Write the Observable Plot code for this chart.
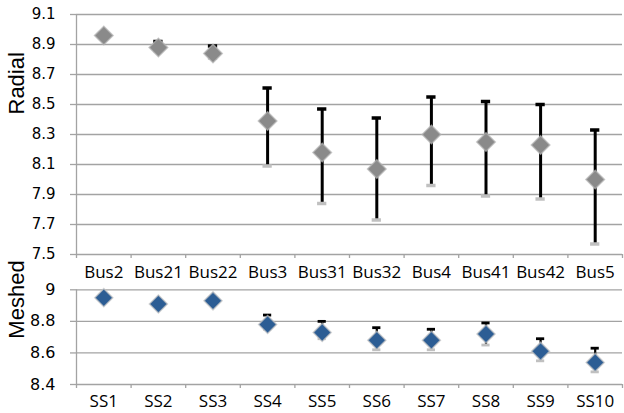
<!DOCTYPE html>
<html>
<head>
<meta charset="utf-8">
<script src="https://cdn.jsdelivr.net/npm/d3@7"></script>
<script src="https://cdn.jsdelivr.net/npm/@observablehq/plot@0.6"></script>
<style>
  html, body { margin: 0; padding: 0; background: #fff; }
  #chart { width: 624px; height: 413px; position: relative; }
  svg { overflow: visible; display: block; }
</style>
</head>
<body>
<div id="chart"></div>
<script>
// ---- data ----
const busCats  = ["Bus2","Bus21","Bus22","Bus3","Bus31","Bus32","Bus4","Bus41","Bus42","Bus5"];
const busMean  = [8.96, 8.88, 8.84, 8.39, 8.18, 8.07, 8.30, 8.25, 8.23, 8.00];
const busHigh  = [8.97, 8.92, 8.89, 8.61, 8.47, 8.41, 8.55, 8.52, 8.50, 8.33];
const busLow   = [8.95, 8.86, 8.81, 8.09, 7.84, 7.73, 7.96, 7.89, 7.87, 7.57];

const ssCats   = ["SS1","SS2","SS3","SS4","SS5","SS6","SS7","SS8","SS9","SS10"];
const ssMean   = [8.95, 8.91, 8.93, 8.78, 8.73, 8.68, 8.68, 8.72, 8.61, 8.54];
const ssHigh   = [8.96, 8.92, 8.94, 8.84, 8.80, 8.76, 8.75, 8.79, 8.69, 8.63];
const ssLow    = [8.94, 8.90, 8.92, 8.75, 8.69, 8.62, 8.62, 8.65, 8.55, 8.48];

const radialTicks  = [7.5, 7.7, 7.9, 8.1, 8.3, 8.5, 8.7, 8.9, 9.1];
const radialLabels = ["7.5","7.7","7.9","8.1","8.3","8.5","8.7","8.9","9.1"];
const meshedTicks  = [8.4, 8.6, 8.8, 9.0];
const meshedLabels = ["8.4","8.6","8.8","9"];

const GRID = "#a3a3a3";

function panel({cats, mean, high, low, ticks, labels, title, height, marginTop, marginBottom,
                color, halo, r, lineW, capW, capH, tickFont, titleDy, labelPad}) {
  const rows = cats.map((c, i) => ({i, c, m: mean[i], hi: high[i], lo: low[i]}));
  const n = cats.length;
  const half = capW;
  return Plot.plot({
    width: 624,
    height,
    marginLeft: 76,
    marginRight: 2,
    marginTop,
    marginBottom,
    style: {background: "transparent", overflow: "visible"},
    x: {domain: [0, n], axis: null},
    y: {domain: [ticks[0], ticks[ticks.length - 1]], axis: null},
    marks: [
      Plot.gridY(ticks, {stroke: GRID, strokeOpacity: 1, strokeWidth: 1.3, x1: 0, x2: n}),
      Plot.axisY({ticks, tickSize: 6, tickPadding: 15, stroke: GRID, strokeOpacity: 1, strokeWidth: 1.3,
        tickFormat: (d) => labels[ticks.indexOf(d)], fontSize: tickFont, fontFamily: "DejaVu Sans", fill: "#000", label: null}),
      Plot.ruleX([0], {stroke: GRID, strokeWidth: 1.3}),
      Plot.axisX({ticks: d3.range(n + 1), tickFormat: () => "", tickSize: 4, stroke: GRID, strokeOpacity: 1, strokeWidth: 1.3, label: null}),
      Plot.axisX({ticks: d3.range(n).map(i => i + 0.5), tickSize: 0, tickPadding: labelPad,
        tickFormat: (d) => cats[Math.round(d - 0.5)], fontSize: 17, fontFamily: "Open Sans", fill: "#000", label: null}),
      Plot.ruleX(rows, {x: d => d.i + 0.5, y1: "lo", y2: "hi", stroke: "#000", strokeWidth: lineW}),
      Plot.ruleY(rows, {y: "lo", x1: d => d.i + 0.5 - half, x2: d => d.i + 0.5 + half, stroke: "#c0c0c0", strokeWidth: capH}),
      Plot.ruleY(rows, {y: "hi", x1: d => d.i + 0.5 - half, x2: d => d.i + 0.5 + half, stroke: "#000", strokeWidth: capH}),
      Plot.dot(rows, {x: d => d.i + 0.5, y: "m", symbol: "square", rotate: 45, r, fill: color,
        stroke: halo, strokeWidth: 1.5, strokeOpacity: 0.7}),
      Plot.text([title], {frameAnchor: "left", text: d => d, rotate: -90, dx: -59.5, dy: titleDy,
        fontSize: 22, fontFamily: "Liberation Sans", fill: "#000"})
    ]
  });
}

const topPanel = panel({
  cats: busCats, mean: busMean, high: busHigh, low: busLow,
  ticks: radialTicks, labels: radialLabels, title: "Radial",
  height: 284, marginTop: 14, marginBottom: 30,
  color: "#8a8a8a", halo: "#b5b5b5", r: 7.4, lineW: 3, capW: 0.085, capH: 3.5, tickFont: 15, titleDy: -20, labelPad: 11
});
const bottomPanel = panel({
  cats: ssCats, mean: ssMean, high: ssHigh, low: ssLow,
  ticks: meshedTicks, labels: meshedLabels, title: "Meshed",
  height: 129, marginTop: 5.3, marginBottom: 29,
  color: "#2c5d94", halo: "#c4c4c4", r: 7.2, lineW: 2.2, capW: 0.075, capH: 2.8, tickFont: 16, titleDy: 1.5, labelPad: 10
});
const root = document.getElementById("chart");
root.appendChild(topPanel);
root.appendChild(bottomPanel);
</script>
</body>
</html>
